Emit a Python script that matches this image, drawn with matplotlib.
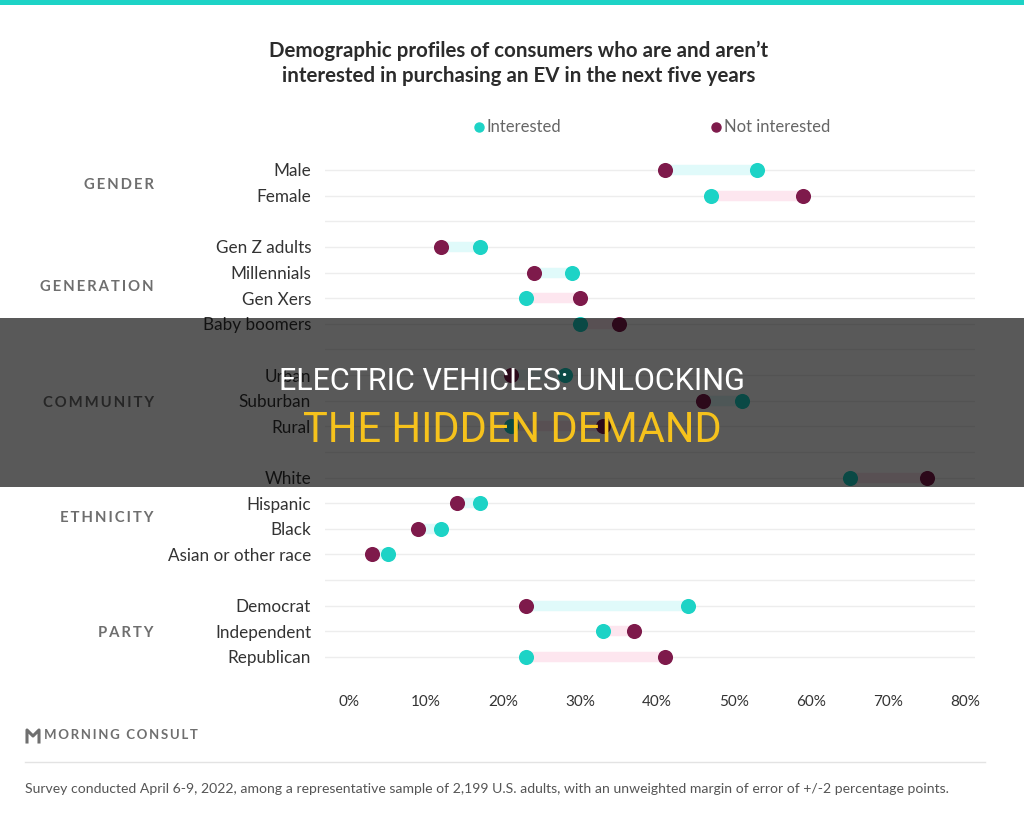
import matplotlib
matplotlib.use("Agg")
import matplotlib.pyplot as plt
import matplotlib.transforms as mtransforms
from matplotlib.patches import Rectangle
from matplotlib.lines import Line2D

# ---------------- data ----------------
groups = ["GENDER", "GENERATION", "COMMUNITY", "ETHNICITY", "PARTY"]
gender_cats = ["Male", "Female"]
gender_int = [53, 47]
gender_not = [41, 59]
generation_cats = ["Gen Z adults", "Millennials", "Gen Xers", "Baby boomers"]
generation_int = [17, 29, 23, 30]
generation_not = [12, 24, 30, 35]
community_cats = ["Urban", "Suburban", "Rural"]
community_int = [28, 51, 21]
community_not = [21, 46, 33]
ethnicity_cats = ["White", "Hispanic", "Black", "Asian or other race"]
ethnicity_int = [65, 17, 12, 5]
ethnicity_not = [75, 14, 9, 3]
party_cats = ["Democrat", "Independent", "Republican"]
party_int = [44, 33, 23]
party_not = [23, 37, 41]
x_ticks = [0, 10, 20, 30, 40, 50, 60, 70, 80]
x_tick_labels = ["0%", "10%", "20%", "30%", "40%", "50%", "60%", "70%", "80%"]

group_data = [
    (gender_cats, gender_int, gender_not),
    (generation_cats, generation_int, generation_not),
    (community_cats, community_int, community_not),
    (ethnicity_cats, ethnicity_int, ethnicity_not),
    (party_cats, party_int, party_not),
]

TEAL = "#1dd3c6"
MAROON = "#7e1a4b"
LIGHT_TEAL = "#e0fafa"
LIGHT_PINK = "#fde6ef"
FONT = ["Lato", "DejaVu Sans"]

W, H = 1024, 819
fig = plt.figure(figsize=(W / 100, H / 100), dpi=100)
fig.patch.set_facecolor("white")

def fx(px):
    return px / W

def fy(py):
    return 1 - py / H

# axes placement
ax_left, ax_right = 325, 975
row0, row_last = 170, 657
nslots = 20
step = (row_last - row0) / (nslots - 1)
ax_top = row0 - 0.5 * step
ax_bot = row_last + 0.5 * step
ax = fig.add_axes([fx(ax_left), fy(ax_bot), fx(ax_right - ax_left), (ax_bot - ax_top) / H])
px_per_unit = 7.7
x0_px = 349
ax.set_xlim((ax_left - x0_px) / px_per_unit, (ax_right - x0_px) / px_per_unit)
ax.set_ylim(nslots - 0.5, -0.5)

# build rows
ypos_all, labels_all = [], []
group_centers = []
slot = 0
for cats, vi, vn in group_data:
    ys = []
    for c, a, b in zip(cats, vi, vn):
        y = slot
        ys.append(y)
        ypos_all.append(y)
        labels_all.append(c)
        bar_col = LIGHT_TEAL if a > b else LIGHT_PINK
        ax.plot([min(a, b), max(a, b)], [y, y], color=bar_col, lw=7.5,
                solid_capstyle="butt", zorder=2)
        ax.scatter([b], [y], s=118, color=MAROON, zorder=4, linewidths=0)
        ax.scatter([a], [y], s=118, color=TEAL, zorder=4, linewidths=0)
        slot += 1
    group_centers.append(sum(ys) / len(ys))
    slot += 1  # blank separator

# grid lines at every slot
for s in range(nslots):
    ax.axhline(s, color="#ededed", lw=1, zorder=1)

ax.set_yticks(ypos_all)
ax.set_yticklabels(labels_all, fontsize=12.3, color="#333333", family=FONT)
ax.set_xticks(x_ticks)
ax.set_xticklabels(x_tick_labels, fontsize=11, color="#333333", family=FONT)
ax.tick_params(axis="y", length=0, pad=10)
ax.tick_params(axis="x", length=0, pad=18)
for sp in ax.spines.values():
    sp.set_visible(False)
ax.set_facecolor("none")

# group labels
trans = mtransforms.blended_transform_factory(fig.transFigure, ax.transData)
for g, c in zip(groups, group_centers):
    ax.text(fx(154), c + 0.08, "\u2009".join(g), transform=trans, ha="right", va="center",
            fontsize=10.7, fontweight="bold", color="#6e6e6e", family=FONT)

# top teal bar
fig.patches.append(Rectangle((0, fy(5)), 1, 5 / H, transform=fig.transFigure,
                             facecolor=TEAL, edgecolor="none", zorder=3))

# title
fig.text(fx(519), fy(51), "Demographic profiles of consumers who are and aren\u2019t",
         ha="center", va="center", fontsize=14.8, fontweight="bold", color="#2b2b2b", family=FONT)
fig.text(fx(519), fy(76), "interested in purchasing an EV in the next five years",
         ha="center", va="center", fontsize=14.8, fontweight="bold", color="#2b2b2b", family=FONT)

# legend
fig.add_artist(Line2D([fx(479)], [fy(127)], marker="o", markersize=6.5, color=TEAL,
                      linestyle="none", transform=fig.transFigure))
fig.text(fx(487), fy(127), "Interested", ha="left", va="center", fontsize=12,
         color="#666666", family=FONT)
fig.add_artist(Line2D([fx(716)], [fy(127)], marker="o", markersize=6.5, color=MAROON,
                      linestyle="none", transform=fig.transFigure))
fig.text(fx(724), fy(127), "Not interested", ha="left", va="center", fontsize=12,
         color="#666666", family=FONT)

# Morning Consult logo
logo_col = "#6f6f6f"
fig.add_artist(Line2D([fx(27), fx(27), fx(33), fx(39), fx(39)],
                      [fy(742), fy(730), fy(736), fy(730), fy(742)],
                      color=logo_col, lw=2.2, transform=fig.transFigure))
fig.text(fx(44), fy(735), "\u2009".join("MORNING") + "  " + "\u2009".join("CONSULT"),
         ha="left", va="center", fontsize=9.5, fontweight="bold", color=logo_col, family=FONT)

# footer rule and note
fig.add_artist(Line2D([fx(25), fx(985)], [fy(762), fy(762)], color="#e3e3e3", lw=1,
                      transform=fig.transFigure))
fig.text(fx(25), fy(789),
         "Survey conducted April 6-9, 2022, among a representative sample of 2,199 U.S. adults, "
         "with an unweighted margin of error of +/-2 percentage points.",
         ha="left", va="center", fontsize=10.1, color="#555555", family=FONT)

# banner overlay
fig.patches.append(Rectangle((0, fy(487)), 1, (487 - 318) / H, transform=fig.transFigure,
                             facecolor="black", alpha=0.65, edgecolor="none", zorder=5))
fig.text(0.5, fy(381), "ELECTRIC VEHICLES: UNLOCKING", ha="center", va="center",
         fontsize=22, color="white", family=["Roboto", "DejaVu Sans"], zorder=6)
fig.text(0.5, fy(430), "THE HIDDEN DEMAND", ha="center", va="center",
         fontsize=30, color="#f6c21c", family=["Roboto", "DejaVu Sans"], zorder=6)

fig.savefig("out.png", dpi=100)
